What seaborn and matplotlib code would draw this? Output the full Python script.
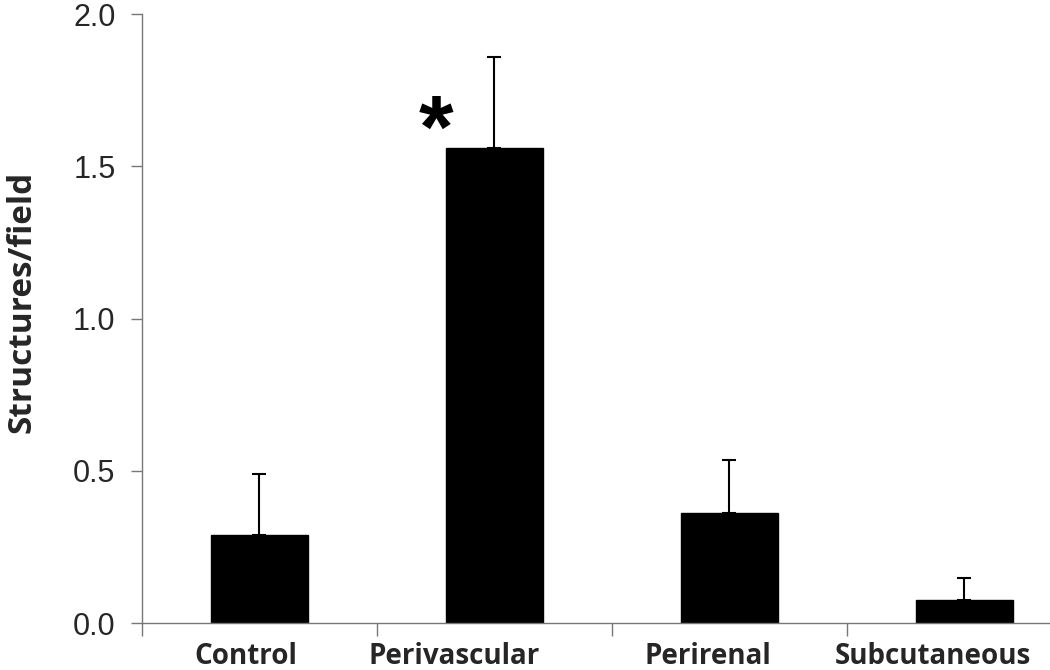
import matplotlib
matplotlib.use('Agg')
import numpy as np
import pandas as pd
import matplotlib.pyplot as plt
import matplotlib.transforms as mtransforms
import seaborn as sns

# Values
sites = ['Control', 'Perivascular', 'Perirenal', 'Subcutaneous']
structures_mean = [0.29, 1.56, 0.36, 0.075]
structures_err = [0.20, 0.30, 0.175, 0.073]
significant = [False, True, False, False]

df = pd.DataFrame({'site': sites, 'mean': structures_mean, 'err': structures_err})

sns.set_style('white')
plt.rcParams['font.family'] = ['Liberation Sans', 'DejaVu Sans']

fig = plt.figure(figsize=(10.5, 6.7), dpi=100)
ax = fig.add_axes([0.1352, 0.0701, 0.8648, 0.909])

sns.barplot(data=df, x='site', y='mean', color='black', width=0.41,
            saturation=1, errorbar=None, ax=ax)
for p in ax.patches:
    p.set_edgecolor('black')

# one-sided error bars (upper only)
ax.errorbar(x=np.arange(len(sites)), y=df['mean'],
            yerr=[np.zeros(len(sites)), df['err']],
            fmt='none', ecolor='black', elinewidth=1.5, capsize=4.7, capthick=1.5)

# significance star, left of the bar's error bar
for i, s in enumerate(significant):
    if s:
        ax.text(i - 0.25, structures_mean[i] + 0.045, '*', ha='center', va='center',
                fontsize=64, fontweight='bold', color='black')

ax.set_ylim(0, 2.0)
ax.set_xlim(-0.5, 3.364)
ax.set_yticks([0.0, 0.5, 1.0, 1.5, 2.0])
ax.set_yticklabels(['0.0', '0.5', '1.0', '1.5', '2.0'], fontsize=22)

# category ticks between groups, labels at group centres
ax.set_xticks(np.arange(len(sites)))
ax.set_xticklabels(sites, fontsize=20, fontweight='bold', family=['Open Sans', 'DejaVu Sans'])
ax.tick_params(axis='x', which='major', length=0, pad=14)
# labels in the original sit a little left of the bars
label_shift = [-14, -40, -22, -32]
for lab, dx in zip(ax.get_xticklabels(), label_shift):
    lab.set_transform(lab.get_transform() + mtransforms.ScaledTranslation(dx / 100, 0, fig.dpi_scale_trans))
ax.set_xticks(np.arange(len(sites)) - 0.5, minor=True)
ax.tick_params(axis='x', which='minor', length=9, width=1, color='#777777', direction='out', bottom=True)
ax.tick_params(axis='y', length=8, width=1, color='#777777', direction='out', left=True, pad=11)

ax.set_xlabel('')
ax.set_ylabel('Structures/field', fontsize=24, fontweight='bold',
              family=['Open Sans', 'DejaVu Sans'])
ax.yaxis.set_label_coords(-0.114, 0.527)

sns.despine(ax=ax)
for side in ['left', 'bottom']:
    ax.spines[side].set_color('#777777')
    ax.spines[side].set_linewidth(1)

fig.savefig('out.png', dpi=100)
